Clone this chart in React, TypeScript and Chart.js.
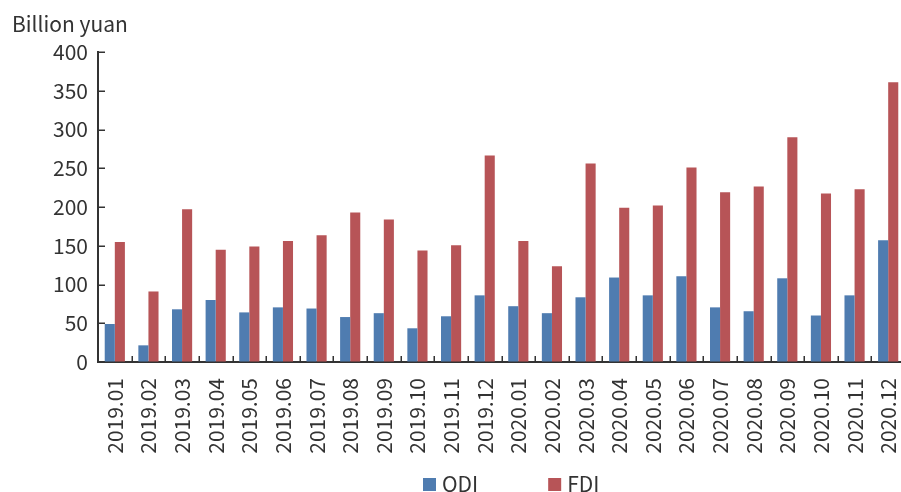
import React, { useEffect, useRef } from "react";
import { Chart, registerables } from "chart.js";

Chart.register(...registerables);

const categories = [
  "2019.01", "2019.02", "2019.03", "2019.04", "2019.05", "2019.06",
  "2019.07", "2019.08", "2019.09", "2019.10", "2019.11", "2019.12",
  "2020.01", "2020.02", "2020.03", "2020.04", "2020.05", "2020.06",
  "2020.07", "2020.08", "2020.09", "2020.10", "2020.11", "2020.12",
];
const odiValues = [49, 21.5, 68, 80, 64, 70.5, 69, 58, 63, 43.5, 59, 86, 72, 63, 83.5, 109, 86, 110.5, 70.5, 65.5, 108, 60, 86, 157];
const fdiValues = [155, 91, 197, 145, 149, 156, 163.5, 193, 184, 144, 150.5, 266.5, 156, 123.5, 256, 199, 202, 251, 219, 226.5, 290, 217.5, 223, 361];
const seriesNames = ["ODI", "FDI"];
const yMin = 0;
const yMax = 400;
const yStep = 50;
const yAxisTitle = "Billion yuan";

const FONT = "'Noto Sans CJK SC', 'Noto Sans', sans-serif";
const TEXT = "#333333";
const AXIS = "#333333";
const ODI_COLOR = "#4f7cb0";
const FDI_COLOR = "#b75457";
const FS = 21;

const decorPlugin = {
  id: "decor",
  afterDraw(chart: any) {
    const { ctx, chartArea } = chart;
    const xs = chart.scales.x;
    const ys = chart.scales.y;
    ctx.save();
    // inward tick marks
    ctx.strokeStyle = AXIS;
    ctx.lineWidth = 1.5;
    ctx.beginPath();
    ys.ticks.forEach((t: any) => {
      const py = Math.round(ys.getPixelForValue(t.value)) + 0.25;
      ctx.moveTo(chartArea.left, py);
      ctx.lineTo(chartArea.left + 7, py);
    });
    for (let i = 1; i < categories.length; i++) {
      const px = Math.round((xs.getPixelForValue(i - 1) + xs.getPixelForValue(i)) / 2) + 0.25;
      ctx.moveTo(px, chartArea.bottom);
      ctx.lineTo(px, chartArea.bottom - 6);
    }
    ctx.stroke();

    // axis title
    ctx.font = `${FS}px ${FONT}`;
    ctx.fillStyle = TEXT;
    ctx.textAlign = "left";
    ctx.textBaseline = "alphabetic";
    ctx.fillText(yAxisTitle, 12, 32);

    // legend
    let x = 423;
    chart.data.datasets.forEach((ds: any) => {
      ctx.fillStyle = ds.backgroundColor;
      ctx.fillRect(x, 478, 13, 13);
      x += 13 + 6;
      ctx.fillStyle = TEXT;
      ctx.fillText(ds.label, x, 492);
      x += ctx.measureText(ds.label).width + 70;
    });
    ctx.restore();
  },
};

export default function App() {
  const ref = useRef<HTMLCanvasElement | null>(null);

  useEffect(() => {
    if (!ref.current) return;
    const chart = new Chart(ref.current, {
      type: "bar",
      data: {
        labels: categories,
        datasets: [
          { label: seriesNames[0], data: odiValues, backgroundColor: ODI_COLOR, categoryPercentage: 0.6, barPercentage: 1.0 },
          { label: seriesNames[1], data: fdiValues, backgroundColor: FDI_COLOR, categoryPercentage: 0.6, barPercentage: 1.0 },
        ],
      },
      options: {
        responsive: false,
        animation: false,
        devicePixelRatio: 1,
        layout: { padding: { top: 52, right: 1, left: 0, bottom: 0 } },
        plugins: { legend: { display: false }, tooltip: { enabled: false }, title: { display: false } },
        scales: {
          x: {
            offset: true,
            grid: { display: true, drawOnChartArea: false, drawTicks: false, offset: true, color: "rgba(0,0,0,0)" },
            border: { display: true, color: AXIS, width: 2 },
            ticks: {
              autoSkip: false,
              maxRotation: 90,
              minRotation: 90,
              padding: 16,
              color: TEXT,
              font: { family: FONT, size: FS },
            },
            afterFit: (scale: any) => {
              scale.height = 130;
              scale.paddingLeft = 0;
              scale.paddingRight = 0;
            },
          },
          y: {
            min: yMin,
            max: yMax,
            grid: { display: true, drawOnChartArea: false, drawTicks: false, color: "rgba(0,0,0,0)" },
            border: { display: true, color: AXIS, width: 2 },
            ticks: {
              stepSize: yStep,
              padding: 10,
              color: TEXT,
              font: { family: FONT, size: FS },
            },
            afterFit: (scale: any) => {
              scale.width = 98;
              scale.paddingTop = 0;
              scale.paddingBottom = 0;
            },
          },
        },
      },
      plugins: [decorPlugin],
    });
    return () => chart.destroy();
  }, []);

  return (
    <div style={{ position: "fixed", left: 0, top: 0, width: 901, height: 492, overflow: "hidden", background: "#fff" }}>
      <canvas ref={ref} width={906} height={492} style={{ display: "block", width: 906, height: 492 }} />
    </div>
  );
}
